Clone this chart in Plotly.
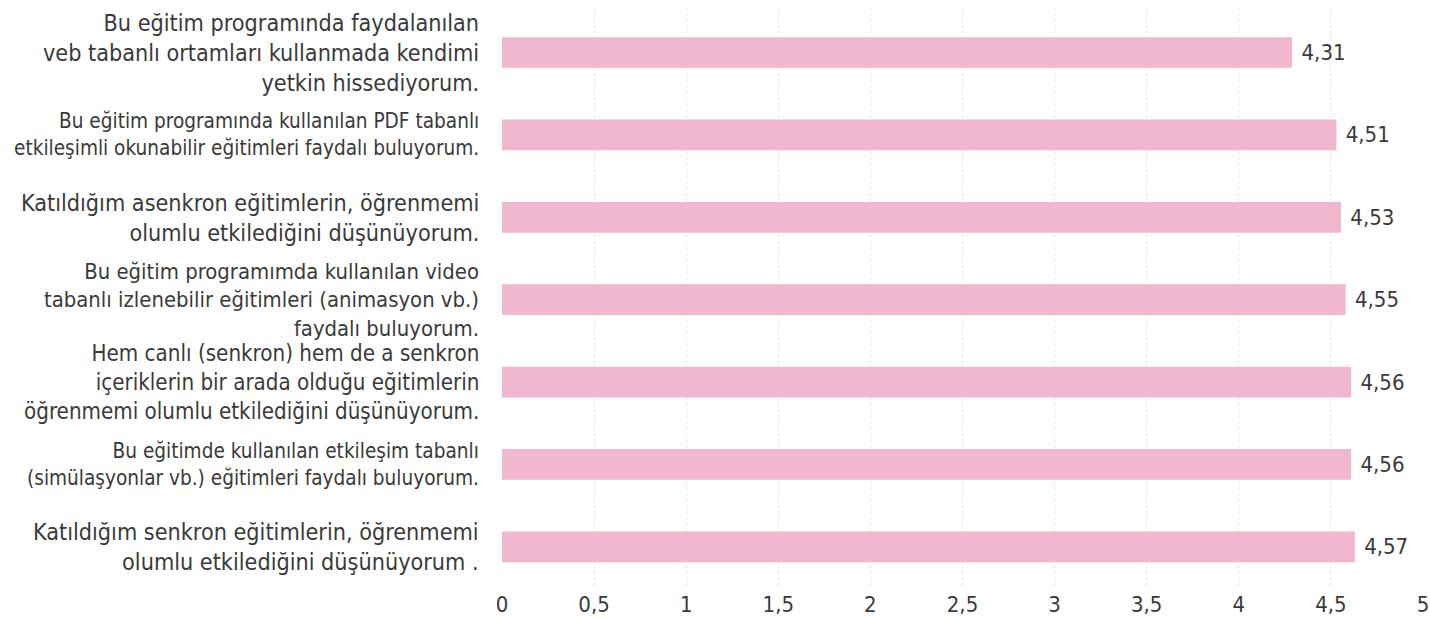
import plotly.graph_objects as go

categories = [
    "Bu eğitim programında faydalanılan<br>veb tabanlı ortamları kullanmada kendimi<br>yetkin hissediyorum.",
    "Bu eğitim programında kullanılan PDF tabanlı<br>etkileşimli okunabilir eğitimleri faydalı buluyorum.",
    "Katıldığım asenkron eğitimlerin, öğrenmemi<br>olumlu etkilediğini düşünüyorum.",
    "Bu eğitim programımda kullanılan video<br>tabanlı izlenebilir eğitimleri (animasyon vb.)<br>faydalı buluyorum.",
    "Hem canlı (senkron) hem de a senkron<br>içeriklerin bir arada olduğu eğitimlerin<br>öğrenmemi olumlu etkilediğini düşünüyorum.",
    "Bu eğitimde kullanılan etkileşim tabanlı<br>(simülaşyonlar vb.) eğitimleri faydalı buluyorum.",
    "Katıldığım senkron eğitimlerin, öğrenmemi<br>olumlu etkilediğini düşünüyorum .",
]
# bar lengths as drawn in the picture
bar_values = [4.29, 4.53, 4.555, 4.58, 4.61, 4.61, 4.63]
# data labels as printed
value_labels = ["4,31", "4,51", "4,53", "4,55", "4,56", "4,56", "4,57"]

# style: per-label font size (reference squeezes some labels)
LABEL_SIZES = [23.2, 20.6, 23.2, 21.9, 22.2, 20.6, 23.2]

FONT = "DejaVu Sans Condensed, sans-serif"
TEXT = "#3a3a3a"

fig = go.Figure(
    go.Bar(
        x=bar_values,
        y=categories,
        orientation="h",
        marker=dict(color="#F1B7CF", line=dict(width=0)),
        text=[" " + t for t in value_labels],
        textposition="outside",
        textfont=dict(family=FONT, size=22, color=TEXT),
        cliponaxis=False,
        hoverinfo="skip",
    )
)

for cat, sz in zip(categories, LABEL_SIZES):
    fig.add_annotation(
        x=0, xref="paper", xanchor="right", xshift=-21,
        y=cat, yref="y", yanchor="middle",
        text=cat, align="right", showarrow=False,
        font=dict(family=FONT, size=sz, color=TEXT),
    )

fig.update_layout(
    width=1430,
    height=620,
    margin=dict(l=502, r=7, t=7, b=32),
    paper_bgcolor="white",
    plot_bgcolor="white",
    bargap=0.627,
    separators=",.",
    showlegend=False,
    hovermode=False,
    font=dict(family=FONT, color=TEXT),
)
fig.update_xaxes(
    range=[0, 5],
    dtick=0.5,
    tick0=0,
    showgrid=True,
    gridcolor="#F6DDE6",
    griddash="dot",
    gridwidth=1,
    zeroline=False,
    showline=False,
    tickfont=dict(family=FONT, size=22, color=TEXT),
    ticks="",
    ticklabelstandoff=1,
    automargin=False,
)
fig.update_yaxes(
    autorange="reversed",
    showgrid=False,
    zeroline=False,
    showline=False,
    ticks="",
    showticklabels=False,
    automargin=False,
)

# remove the browser's default body margin so the figure sits at the window's origin
fig.write_html(
    "out.html",
    config={"displayModeBar": False, "staticPlot": True},
    post_script="document.body.style.margin='0';document.body.style.overflow='hidden';",
)
